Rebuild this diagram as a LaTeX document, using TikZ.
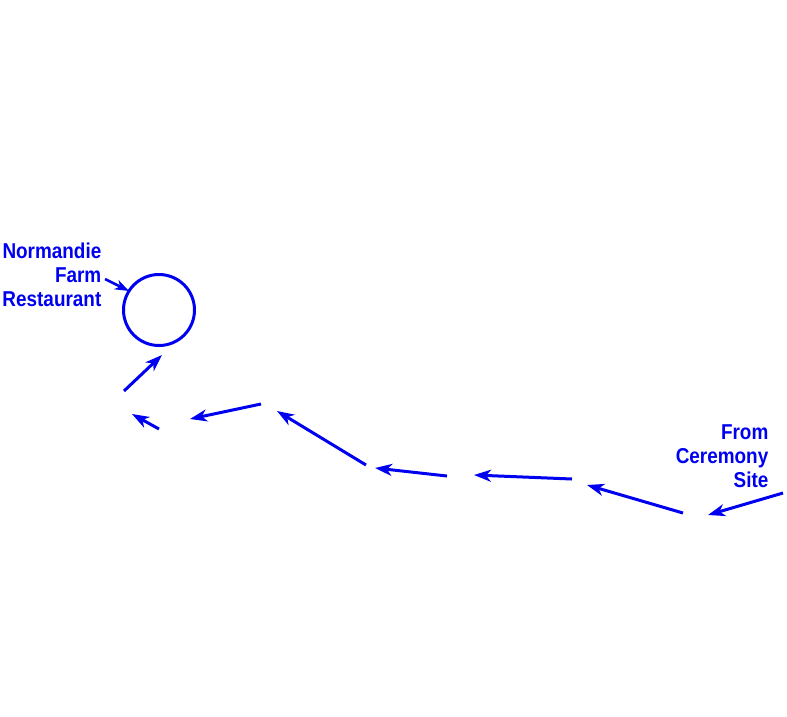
\documentclass[tikz,border=0pt]{standalone}
\usepackage{fontspec}
\setmainfont{Liberation Sans}
\usetikzlibrary{arrows.meta}
\definecolor{routeblue}{RGB}{0,0,240}
\tikzset{
  route/.style={routeblue, line width=3pt, -{Stealth[length=17pt,width=12pt,inset=5pt]}},
  lbl/.style={text=routeblue, font=\bfseries\fontsize{21.5}{24}\selectfont, align=right, inner sep=0pt, xscale=0.88}
}
\begin{document}
\begin{tikzpicture}[x=1pt,y=-1pt]
\useasboundingbox (0,0) rectangle (787,716);
\node[draw=routeblue, line width=3pt, circle, minimum size=71pt, inner sep=0pt] (rest) at (159,310) {};
\node[lbl, anchor=north east] (lnorm) at (101.5,243) {Normandie\\Farm\\Restaurant};
\node[lbl, anchor=north east] (lfrom) at (768.5,424) {From\\Ceremony\\Site};
\coordinate (a0) at (783,493);
\coordinate (a1) at (708,515);
\coordinate (b0) at (683,513);
\coordinate (b1) at (587,485);
\coordinate (c0) at (572,479);
\coordinate (c1) at (474,475);
\coordinate (d0) at (447,476);
\coordinate (d1) at (375,468);
\coordinate (e0) at (366,465);
\coordinate (e1) at (277,411);
\coordinate (f0) at (261,404);
\coordinate (f1) at (190,419);
\coordinate (g0) at (159,429);
\coordinate (g1) at (132,414);
\coordinate (h0) at (124,391);
\coordinate (h1) at (162,355);
\coordinate (k0) at (105,279);
\coordinate (k1) at (129,291);
\draw[route] (a0) -- (a1);
\draw[route] (b0) -- (b1);
\draw[route] (c0) -- (c1);
\draw[route] (d0) -- (d1);
\draw[route] (e0) -- (e1);
\draw[route] (f0) -- (f1);
\draw[route] (g0) -- (g1);
\draw[route] (h0) -- (h1);
\draw[route, line width=2.5pt, -{Stealth[length=14pt,width=10pt,inset=4pt]}] (k0) -- (k1);
\end{tikzpicture}
\end{document}
